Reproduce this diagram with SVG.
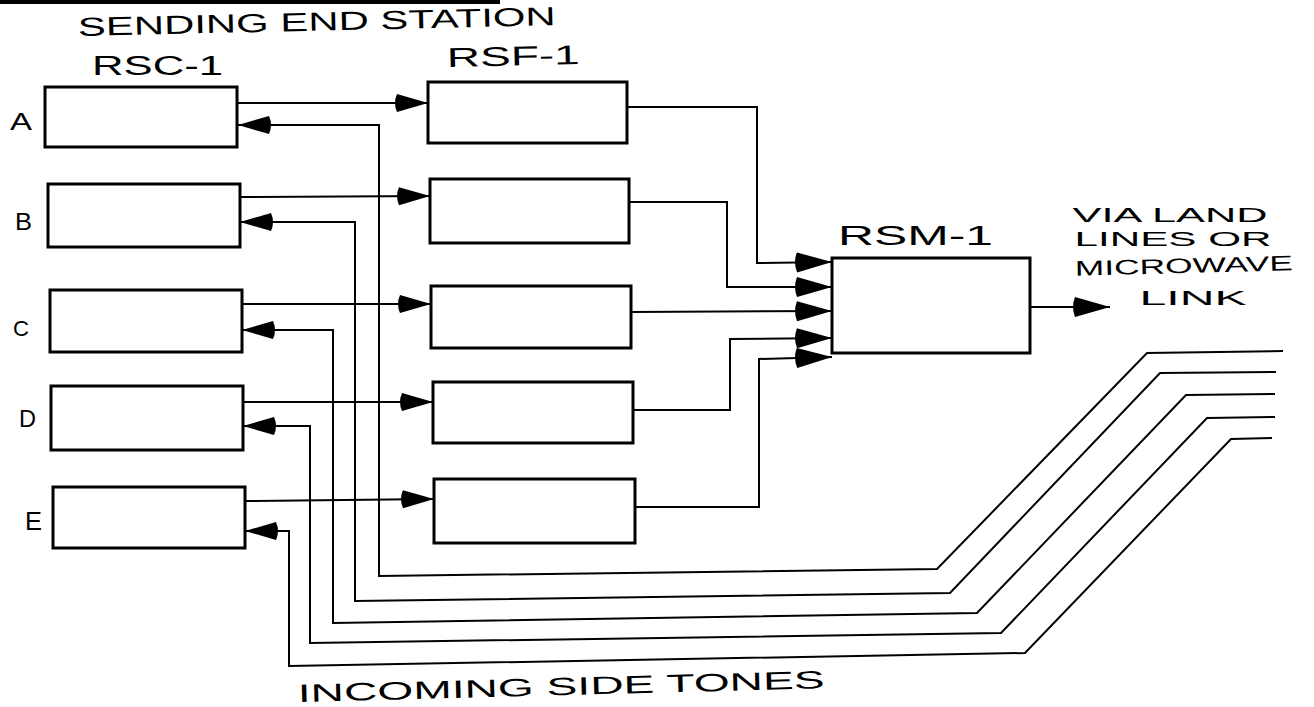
<svg xmlns="http://www.w3.org/2000/svg" width="1314" height="707" viewBox="0 0 1314 707">
<style>
.box{fill:none;stroke:#000;stroke-width:3}
.ln{fill:none;stroke:#000;stroke-width:2}
.lbl{font-family:"Liberation Sans",Arial,sans-serif;fill:#000;font-weight:normal}
</style>
<defs>
<marker id="ah" viewBox="0 0 34 20" refX="34" refY="10" markerWidth="34" markerHeight="20" markerUnits="userSpaceOnUse" orient="auto">
<path d="M34,10 L3,1 Q-1,10 3,19 Z" fill="#000"/>
</marker>
<marker id="ahL" viewBox="0 0 38 22" refX="38" refY="11" markerWidth="38" markerHeight="22" markerUnits="userSpaceOnUse" orient="auto">
<path d="M38,11 L3,1 Q-1,11 3,21 Z" fill="#000"/>
</marker>
</defs>
<rect width="1314" height="707" fill="#fff"/>
<line x1="0" y1="2" x2="500" y2="2" stroke="#000" stroke-width="4"/>

<g id="titles">
<text class="lbl" x="78" y="36" font-size="26" textLength="478" lengthAdjust="spacingAndGlyphs" transform="rotate(-1.3 78 36)">SENDING END STATION</text>
<text class="lbl" x="298" y="702" font-size="25" textLength="527" lengthAdjust="spacingAndGlyphs" transform="rotate(-1.5 298 702)">INCOMING SIDE TONES</text>
<g id="via-label">
<text class="lbl" x="1170" y="222" font-size="21" text-anchor="middle" textLength="195" lengthAdjust="spacingAndGlyphs">VIA LAND</text>
<text class="lbl" x="1173" y="246" font-size="21" text-anchor="middle" textLength="197" lengthAdjust="spacingAndGlyphs">LINES OR</text>
<text class="lbl" x="1184" y="273" font-size="21" text-anchor="middle" textLength="218" lengthAdjust="spacingAndGlyphs" transform="rotate(-1.5 1184 273)">MICROWAVE</text>
<text class="lbl" x="1193" y="305" font-size="21" text-anchor="middle" textLength="107" lengthAdjust="spacingAndGlyphs">LINK</text>
</g>
</g>

<g id="rsc-1">
<text class="lbl" x="92" y="75" font-size="27" textLength="131" lengthAdjust="spacingAndGlyphs">RSC-1</text>
<g id="rsc-a"><text class="lbl" x="10" y="130" font-size="24" textLength="22" lengthAdjust="spacingAndGlyphs">A</text><rect class="box" x="45" y="87" width="192" height="60"/></g>
<g id="rsc-b"><text class="lbl" x="15" y="230" font-size="24" textLength="17" lengthAdjust="spacingAndGlyphs">B</text><rect class="box" x="48" y="184" width="192" height="63"/></g>
<g id="rsc-c"><text class="lbl" x="13" y="336" font-size="22" textLength="16" lengthAdjust="spacingAndGlyphs">C</text><rect class="box" x="50" y="290" width="192" height="62"/></g>
<g id="rsc-d"><text class="lbl" x="19" y="427" font-size="24" textLength="17" lengthAdjust="spacingAndGlyphs">D</text><rect class="box" x="51" y="386" width="192" height="64"/></g>
<g id="rsc-e"><text class="lbl" x="25" y="530" font-size="26" textLength="17" lengthAdjust="spacingAndGlyphs">E</text><rect class="box" x="53" y="487" width="192" height="61"/></g>
</g>

<g id="rsf-1">
<text class="lbl" x="447" y="67" font-size="27" textLength="133" lengthAdjust="spacingAndGlyphs" transform="rotate(-1.3 447 67)">RSF-1</text>
<g id="rsf-a"><rect class="box" x="428" y="82" width="199" height="61"/></g>
<g id="rsf-b"><rect class="box" x="430" y="179" width="199" height="64"/></g>
<g id="rsf-c"><rect class="box" x="431" y="286" width="200" height="62"/></g>
<g id="rsf-d"><rect class="box" x="433" y="382" width="200" height="61"/></g>
<g id="rsf-e"><rect class="box" x="434" y="479" width="201" height="64"/></g>
</g>

<g id="rsm-1">
<text class="lbl" x="838" y="245" font-size="28" textLength="155" lengthAdjust="spacingAndGlyphs">RSM-1</text>
<rect class="box" x="832" y="258" width="198" height="95"/>
</g>

<g id="connectors">
<path class="ln" d="M237,103 L428,103" marker-end="url(#ah)"/>
<path class="ln" d="M240,197 L430,196" marker-end="url(#ah)"/>
<path class="ln" d="M242,304 L431,304" marker-end="url(#ah)"/>
<path class="ln" d="M243,402 L433,402" marker-end="url(#ah)"/>
<path class="ln" d="M245,501 L434,499" marker-end="url(#ah)"/>
<path class="ln" d="M627,107 L757,107 L757,263 L832,262" marker-end="url(#ahL)"/>
<path class="ln" d="M629,202 L727,202 L727,287 L832,287" marker-end="url(#ahL)"/>
<path class="ln" d="M631,312 L832,311" marker-end="url(#ahL)"/>
<path class="ln" d="M633,410 L730,410 L730,339 L832,338" marker-end="url(#ahL)"/>
<path class="ln" d="M635,507 L759,507 L759,359 L832,357" marker-end="url(#ahL)"/>
<path class="ln" d="M1030,307 L1110,307" marker-end="url(#ahL)"/>
<path class="ln" d="M1283,351 L1147,353 L937,569 L379,576 L379,125 L238,125" marker-end="url(#ah)"/>
<path class="ln" d="M1276,372 L1160,373 L950,593 L355,601 L355,222 L240,222" marker-end="url(#ah)"/>
<path class="ln" d="M1275,394 L1186,395 L977,613 L333,623 L333,330 L242,330" marker-end="url(#ah)"/>
<path class="ln" d="M1275,417 L1207,418 L1001,633 L310,643 L310,426 L243,426" marker-end="url(#ah)"/>
<path class="ln" d="M1272,438 L1231,439 L1025,653 L289,666 L289,531 L245,531" marker-end="url(#ah)"/>
</g>
</svg>
